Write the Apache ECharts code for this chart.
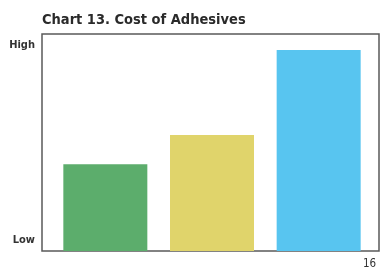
<!DOCTYPE html>
<html><head><meta charset="utf-8">
<script src="https://cdn.jsdelivr.net/npm/echarts@6/dist/echarts.min.js"></script>
<style>html,body{margin:0;padding:0;background:#fff}#c{width:385px;height:268px}</style>
</head><body><div id="c"></div>
<script>
const categories = ['A', 'B', 'C'];
const costValues = [40, 53.5, 92.6];
const barColors = ['#5cad6c', '#e0d46b', '#58c5f0'];
const yTickLabels = {5: 'Low', 95: 'High'};
const titleText = 'Chart 13. Cost of Adhesives';
const pageNumber = '16';
const FONT = '"DejaVu Sans Condensed", "Liberation Sans", sans-serif';

const chart = echarts.init(document.getElementById('c'), null, {renderer: 'canvas'});
chart.setOption({
  animation: false,
  backgroundColor: '#fff',
  title: {
    text: titleText, left: 37, top: 8,
    textStyle: {fontFamily: FONT, fontWeight: 'bold', fontSize: 14.5, color: '#2a2a2a'}
  },
  graphic: [{
    type: 'text', left: 363, top: 258,
    style: {text: pageNumber, fontFamily: FONT, fontSize: 11.5, fill: '#333'}
  }],
  grid: [
    {left: 42, top: 34, width: 337, height: 217, show: true, borderColor: '#5a5a5a', borderWidth: 1.5, backgroundColor: 'transparent'},
    {left: 52, top: 34, width: 320, height: 217}
  ],
  xAxis: [
    {gridIndex: 0, type: 'category', data: categories, show: false},
    {gridIndex: 1, type: 'category', data: categories, show: false}
  ],
  yAxis: [
    {gridIndex: 0, type: 'value', min: 0, max: 100, interval: 5,
     axisLine: {show: false}, axisTick: {show: false}, splitLine: {show: false},
     axisLabel: {margin: 7, fontFamily: FONT, fontWeight: 'bold', fontSize: 11, color: '#333',
       formatter: v => yTickLabels[v] || ''}},
    {gridIndex: 1, type: 'value', min: 0, max: 100, show: false}
  ],
  series: [{
    type: 'bar', xAxisIndex: 1, yAxisIndex: 1, barWidth: 84,
    data: costValues.map((v, i) => ({value: v, itemStyle: {color: barColors[i]}}))
  }]
});
</script></body></html>
